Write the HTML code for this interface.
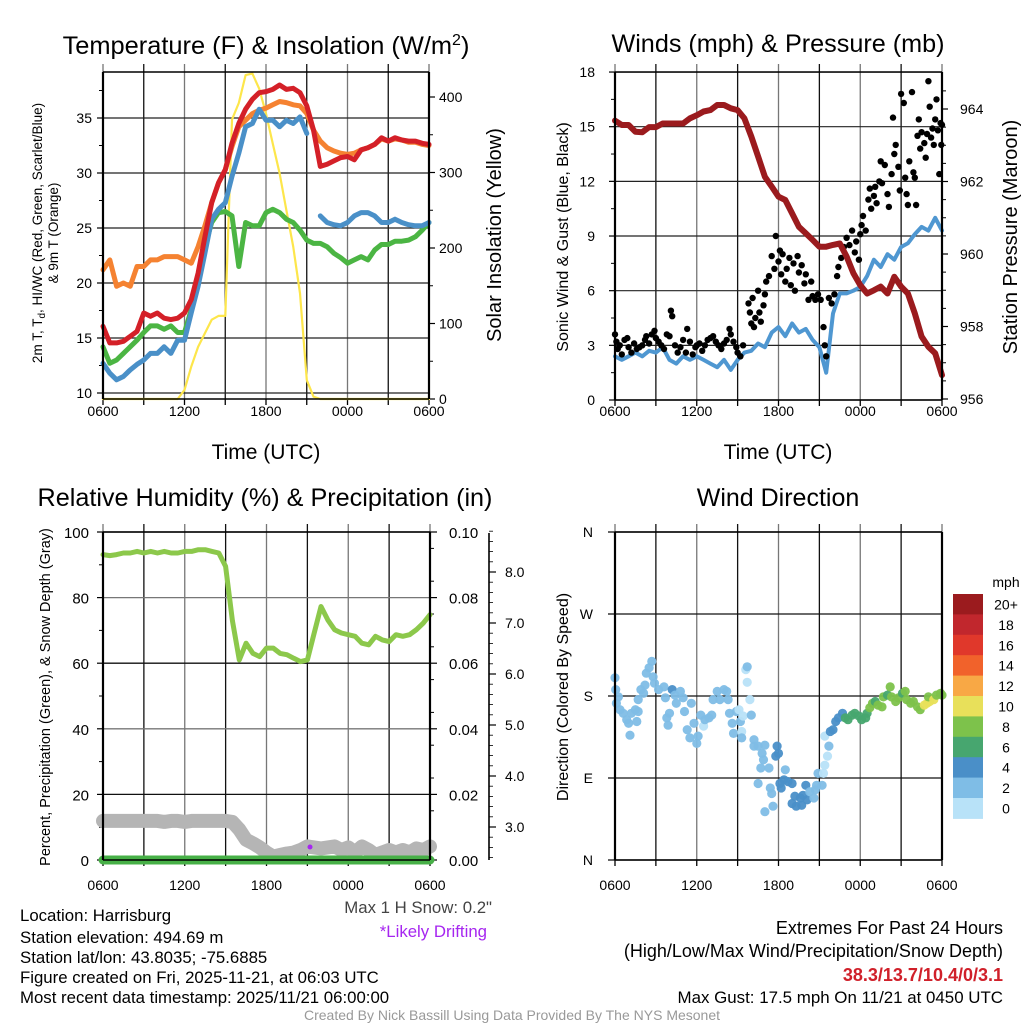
<!DOCTYPE html>
<html><head><meta charset="utf-8"><style>
html,body{margin:0;padding:0;background:#fff;}
svg{display:block;font-family:"Liberation Sans",Arial,sans-serif;}
</style></head><body>
<svg id="fig" width="1024" height="1024" viewBox="0 0 1024 1024" xmlns="http://www.w3.org/2000/svg">
<rect x="0" y="0" width="1024" height="1024" fill="#fff"/>
<text x="266" y="54" font-size="25.4" text-anchor="middle">Temperature (F) &amp; Insolation (W/m<tspan dy="-9" font-size="16">2</tspan><tspan dy="9">)</tspan></text>
<text x="778" y="52" font-size="25.2" text-anchor="middle">Winds (mph) &amp; Pressure (mb)</text>
<text x="265" y="506" font-size="25.2" text-anchor="middle">Relative Humidity (%) &amp; Precipitation (in)</text>
<text x="778" y="506" font-size="25" text-anchor="middle">Wind Direction</text>
<text x="266" y="459" font-size="21" text-anchor="middle">Time (UTC)</text>
<text x="778" y="459" font-size="21" text-anchor="middle">Time (UTC)</text>
<text transform="translate(42,233) rotate(-90)" font-size="13.5" text-anchor="middle">2m T, T<tspan dy="3" font-size="10">d</tspan><tspan dy="-3">, HI/WC (Red, Green, Scarlet/Blue)</tspan></text>
<text transform="translate(58,233) rotate(-90)" font-size="13.5" text-anchor="middle">&amp; 9m T (Orange)</text>
<text transform="translate(501,235) rotate(-90)" font-size="20" text-anchor="middle">Solar Insolation (Yellow)</text>
<text transform="translate(568,237) rotate(-90)" font-size="16" text-anchor="middle">Sonic Wind &amp; Gust (Blue, Black)</text>
<text transform="translate(1017,237) rotate(-90)" font-size="20" text-anchor="middle">Station Pressure (Maroon)</text>
<text transform="translate(50,697) rotate(-90)" font-size="14.5" text-anchor="middle">Percent, Precipitation (Green), &amp; Snow Depth (Gray)</text>
<text transform="translate(568,697) rotate(-90)" font-size="16" text-anchor="middle">Direction (Colored By Speed)</text>
<g id="layer"></g>
<text x="492" y="913" font-size="16.8" fill="#444" text-anchor="end">Max 1 H Snow: 0.2"</text>
<text x="487" y="937" font-size="16.8" fill="#a626f0" text-anchor="end">*Likely Drifting</text>
<g font-size="16.8">
<text x="20" y="921">Location: Harrisburg</text>
<text x="20" y="943">Station elevation: 494.69 m</text>
<text x="20" y="963">Station lat/lon: 43.8035; -75.6885</text>
<text x="20" y="983">Figure created on Fri, 2025-11-21, at 06:03 UTC</text>
<text x="20" y="1003">Most recent data timestamp: 2025/11/21 06:00:00</text>
</g>
<g font-size="18" text-anchor="end">
<text x="1003" y="934">Extremes For Past 24 Hours</text>
<text x="1003" y="957">(High/Low/Max Wind/Precipitation/Snow Depth)</text>
<text x="1003" y="981" fill="#d0202a" font-weight="bold">38.3/13.7/10.4/0/3.1</text>
<text x="1003" y="1003" font-size="16.9">Max Gust: 17.5 mph On 11/21 at 0450 UTC</text>
</g>
<text x="512" y="1020" font-size="14" fill="#999" text-anchor="middle">Created By Nick Bassill Using Data Provided By The NYS Mesonet</text>
</svg>
<script>
// ---- data (half-hourly, hours since 0600 UTC) ----
const tempT = [16.06,14.55,14.55,14.7,15.15,15.6,17.27,16.97,17.27,16.8,16.67,16.8,17.27,18.5,20.9,24.2,27.3,29.1,30.3,32.7,34.5,35.8,36.7,37.3,37.4,37.6,38.0,37.6,37.7,37.3,36.1,33.9,30.6,30.8,31.1,31.4,31.5,31.2,32.1,32.3,32.6,33.2,32.9,33.2,33.0,32.9,32.9,32.7,32.6];
const temp9m = [21.2,22.1,19.7,20.0,19.7,21.5,21.5,22.1,22.1,22.4,22.4,22.4,22.1,21.8,23.3,25.2,27.3,29.1,30.3,32.4,34.2,34.8,35.4,35.7,35.9,36.2,36.5,36.4,36.2,36.1,35.4,33.9,32.9,32.3,32.0,31.8,31.7,31.8,32.1,32.3,32.6,33.1,32.9,33.1,33.0,32.8,32.8,32.6,32.5];
const windChill = [12.7,11.8,11.2,11.5,12.1,12.6,13.0,13.6,13.6,14.2,13.6,14.8,14.8,17.3,19.7,22.7,25.8,26.7,27.3,29.7,31.8,34.2,34.5,35.8,34.8,34.8,34.2,34.8,34.5,35.1,33.6,null,26.1,25.5,25.3,25.2,25.5,26.1,26.4,26.4,26.1,25.5,25.5,25.8,25.5,25.3,25.2,25.2,25.5];
const dewPoint = [14.2,12.7,13.0,13.6,14.2,14.8,15.5,16.1,16.1,15.8,16.1,15.5,15.5,17.6,20.3,23.3,25.5,26.4,26.5,26.1,21.5,25.5,25.2,25.2,26.4,26.7,26.4,25.8,25.5,24.8,23.9,23.6,23.6,23.3,22.7,22.3,21.8,22.1,22.4,22.1,23.0,23.5,23.5,23.8,23.8,23.9,24.2,24.8,25.5];
const solar = [0,0,0,0,0,0,0,0,0,0,0,0,12,43,69,87,105,110,110,370,392,429,431,411,378,338,299,250,202,140,25,3,0,0,0,0,0,0,0,0,0,0,0,0,0,0,0,0,0];
const sonicWind = [2.4,2.2,2.4,2.6,2.4,2.7,2.6,2.9,2.2,2.0,2.4,2.2,2.4,2.2,2.0,1.8,2.2,1.65,2.2,2.6,2.7,3.1,2.9,3.7,4.0,3.5,4.2,3.7,3.9,3.3,2.9,1.5,4.75,5.85,5.85,6.0,6.2,6.8,7.7,7.3,8.0,7.7,8.4,8.6,9.1,9.5,9.3,10.0,9.3];
const pressure = [963.68,963.56,963.56,963.37,963.36,963.5,963.5,963.6,963.6,963.6,963.6,963.74,963.83,963.93,963.97,964.11,964.11,964.02,963.97,963.74,963.24,962.69,962.13,961.86,961.58,961.49,961.12,960.75,960.57,960.39,960.2,960.2,960.25,960.29,959.93,959.47,959.14,958.91,959.0,959.1,958.91,959.37,959.1,958.91,958.36,957.72,957.44,957.26,956.66];
const gustHours = [0,0.1,0.2,0.35,0.5,0.7,0.9,1.0,1.2,1.4,1.6,1.8,2.0,2.2,2.3,2.5,2.7,2.9,3.0,3.2,3.4,3.6,3.8,4.0,4.1,4.2,4.4,4.6,4.8,5.0,5.2,5.3,5.5,5.7,5.9,6.0,6.2,6.4,6.6,6.8,7.0,7.2,7.4,7.6,7.8,8.0,8.2,8.4,8.5,8.7,8.9,9.0,9.2,9.4,
9.8,9.9,10.0,10.1,10.2,10.3,10.5,10.6,10.7,10.9,11.0,11.1,11.3,11.5,11.7,11.8,12.0,12.1,12.2,12.3,12.5,12.6,12.8,12.9,13.1,13.2,13.4,13.5,13.7,13.9,14.0,14.2,14.4,14.5,14.7,14.9,15.1,15.3,15.4,15.5,15.7,15.9,16.1,16.3,16.4,16.6,16.8,17.0,17.2,17.4,17.6,17.7,17.9,18.0,18.1,18.2,18.4,18.6,18.7,18.8,19.0,19.1,19.2,19.4,19.5,19.6,19.8,20.0,20.1,20.3,20.4,20.5,20.6,20.8,20.9,21.0,21.2,21.3,21.4,21.5,21.6,21.8,21.9,22.0,22.1,22.2,22.3,22.4,22.5,22.7,22.8,22.9,23.0,23.1,23.2,23.3,23.4,23.5,23.6,23.7,23.8,23.9,24.0,23.95];
const gustValues = [3.6,3.2,2.8,3.0,2.5,3.3,3.4,2.9,2.6,3.1,2.8,2.9,3.0,3.3,3.5,3.1,3.6,3.8,3.4,3.2,3.0,2.8,3.6,3.5,4.9,4.6,3.0,2.6,2.9,3.3,2.6,3.9,3.2,2.5,2.9,3.0,3.1,2.7,3.0,3.3,3.4,3.5,3.2,3.0,2.8,3.1,3.3,3.9,3.6,3.2,2.9,2.6,2.4,3.0,
5.3,4.8,4.2,5.6,4.0,4.5,6.0,4.8,4.3,5.2,5.8,6.5,6.8,7.9,7.2,9.0,7.6,8.2,6.9,8.0,6.5,7.2,7.8,6.3,7.5,6.0,7.9,7.0,7.4,6.4,6.9,5.5,6.5,5.7,5.5,5.8,5.5,4.0,3.0,2.4,5.6,5.3,5.8,6.8,7.3,7.8,8.4,8.9,8.5,9.3,8.1,8.7,7.7,9.1,9.6,10.1,9.3,11.0,11.6,10.5,11.2,11.7,10.8,12.0,13.1,11.9,12.9,11.3,10.6,12.4,15.5,13.5,14.0,12.8,11.5,16.8,16.3,12.2,11.3,10.7,13.1,16.9,12.5,12.2,10.7,14.5,15.4,13.8,14.7,14.1,13.3,14.6,17.5,16.1,14.4,14.9,14.0,15.4,16.5,14.8,12.4,15.2,15.1,14.0];
const relHum = [93.1,92.8,93.1,93.6,93.6,94.1,93.6,94.1,93.6,94.1,93.6,93.6,94.1,94.1,94.6,94.6,94.1,93.6,89.5,73,61,66.1,63,62,64.6,64.6,63,62.6,61.5,60.5,61,69.2,77.3,73.2,70.2,69.2,68.7,68.2,66.1,65.6,68.2,67.1,66.6,68.7,68.2,68.7,70.2,72.2,74.8];
const snowDepth = [3.12,3.12,3.12,3.12,3.12,3.12,3.12,3.12,3.12,3.1,3.12,3.12,3.1,3.12,3.12,3.12,3.12,3.12,3.12,3.1,2.95,2.75,2.68,2.6,2.5,2.42,2.45,2.48,2.5,2.55,2.62,2.6,2.58,2.6,2.62,2.55,2.6,2.5,2.62,2.55,2.45,2.5,2.55,2.5,2.55,2.5,2.58,2.55,2.62];
const precip = [0,0,0,0,0,0,0,0,0,0,0,0,0,0,0,0,0,0,0,0,0,0,0,0,0,0,0,0,0,0,0,0,0,0,0,0,0,0,0,0,0,0,0,0,0,0,0,0,0];
const dirHours = [0.0,0.05,0.1,0.25,0.37,0.6,0.86,1.0,1.1,1.2,1.5,1.7,1.6,1.7,1.9,2.1,2.2,2.3,2.5,2.7,2.8,2.9,3.2,3.6,3.7,3.8,3.9,4.0,4.2,4.4,4.5,4.8,5.0,5.1,5.3,5.5,5.6,5.8,6.0,6.1,6.3,6.5,6.6,6.9,7.1,7.2,7.5,7.7,8.0,8.2,8.3,8.4,8.6,8.7,8.9,9.1,9.2,9.3,9.3,9.4,9.6,9.7,9.7,9.9,10.0,10.2,10.2,10.5,10.8,10.9,11.0,10.7,10.5,11.3,11.4,11.5,11.0,11.6,11.9,11.8,12.0,12.1,12.2,12.4,12.5,12.7,13.0,13.0,13.2,13.3,13.6,13.7,13.8,14.0,14.1,14.3,14.6,14.7,14.8,14.9,15.2,15.3,15.4,15.6,15.7,15.4,15.8,16.0,16.2,16.4,16.7,16.9,17.1,17.4,17.6,17.9,18.1,18.4,18.5,18.7,18.9,19.1,19.3,19.6,19.7,20.0,20.2,20.3,20.6,20.8,21.1,21.3,21.4,21.7,21.9,22.2,22.4,22.7,22.9,23.1,23.0,23.4,23.6,23.9,24.0];
const dirDegrees = [200,187,172,179,165,161,154,150,137,161,165,163,152,176,187,183,192,205,211,218,201,194,187,190,178,156,148,161,187,181,172,185,178,163,143,134,172,150,128,136,159,147,154,156,159,176,185,176,187,185,176,161,150,139,163,165,152,141,134,158,209,212,195,176,159,132,125,125,117,110,126,101,84,101,79,73,53,59,125,114,117,84,79,88,99,86,84,62,70,59,68,60,71,82,66,75,68,77,82,95,82,95,104,114,125,136,141,143,152,156,161,156,154,159,161,158,154,156,161,167,172,174,170,168,179,181,190,179,174,178,183,185,176,172,174,168,165,170,172,174,179,176,181,183,181];
const dirSpeeds = [2.5,2.5,2.5,2.5,2.5,2.5,2.5,2.5,2.5,2.5,2.5,2.5,2.5,2.5,2.5,2.5,2.5,2.5,2.5,2.5,2.5,2.5,2.5,2.5,2.5,2.5,2.5,2.5,4.5,2.5,2.5,2.5,2.5,2.5,2.5,2.5,2.5,2.5,2.5,2.5,2.5,1,2.5,2.5,2.5,2.5,2.5,2.5,2.5,2.5,2.5,2.5,2.5,2.5,2.5,1,2.5,1,2.5,1,1,2.5,1,1,2.5,2.5,2.5,2.5,2.5,2.5,2.5,2.5,2.5,2.5,2.5,2.5,2.5,2.5,4.5,4.5,4.5,4.5,4.5,4.5,2.5,4.5,4.5,4.5,4.5,4.5,4.5,4.5,4.5,4.5,4.5,2.5,2.5,2.5,2.5,2.5,2.5,1,1,1,2.5,1,4.5,4.5,4.5,4.5,4.5,6.5,6.5,6.5,6.5,6.5,6.5,6.5,6.5,8.5,8.5,6.5,8.5,8.5,8.5,6.5,8.5,8.5,8.5,8.5,6.5,8.5,8.5,8.5,8.5,8.5,8.5,10.5,10.5,10.5,8.5,10.5,8.5,8.5,8.5];
const xTickLabels = ['0600','1200','1800','0000','0600'];
const tempTicks = [10,15,20,25,30,35];
const solarTicks = [0,100,200,300,400];
const windTicks = [0,3,6,9,12,15,18];
const presTicks = [956,958,960,962,964];
const rhTicks = [0,20,40,60,80,100];
const precipTicks = ['0.00','0.02','0.04','0.06','0.08','0.10'];
const snowTicks = ['3.0','4.0','5.0','6.0','7.0','8.0'];
const dirTicks = ['N','E','S','W','N'];
const speedLabels = ['0','2','4','6','8','10','12','14','16','18','20+'];
const speedColors = ['#b8e2f8','#7fbde6','#4a8fc8','#47a66f','#7dc24b','#e8e05a','#f8a845','#f1622b','#e0382b','#c1272d','#9b1b1e'];

// ---- drawing ----
const NS='http://www.w3.org/2000/svg';
const layer=document.getElementById('layer');
function mk(tag,parent){const e=document.createElementNS(NS,tag);parent.appendChild(e);return e;}
function set(e,o){for(const k in o)e.setAttribute(k,o[k]);return e;}
function line(p,x1,y1,x2,y2,st,w){return set(mk('line',p),{x1:x1,y1:y1,x2:x2,y2:y2,stroke:st,'stroke-width':w});}
function txt(p,x,y,s,anchor,size,fill){const t=set(mk('text',p),{x:x,y:y,'text-anchor':anchor,'font-size':size,fill:fill||'#000'});t.textContent=s;return t;}

const P1={x0:103,x1:429,top:72,bot:399};
const P2={x0:615,x1:942,top:72,bot:400};
const P3={x0:103,x1:430,top:532,bot:860};
const P4={x0:615,x1:942,top:532,bot:860};
function xs(P,h){return P.x0+(P.x1-P.x0)*h/24;}
const yTemp=v=>393-(v-10)*11;
const ySolar=w=>399-w*0.755;
const yWind=v=>400-v*18.22;
const yPres=p=>399-(p-956)*36.25;
const yRH=v=>860-v*3.28;
const yPrecip=v=>860-v*3280;
const ySnow=s=>827-(s-3)*51;
const yDir=d=>860-d*328/360;

function frame(P,name,lblY){
  const g=mk('g',layer);
  
  
  for(let i=0;i<=8;i++){
    const x=xs(P,i*3);
    line(g,x,P.top-8,x,P.bot,(i%2===0)?'#777':'#111',1.3);
    line(g,x,P.bot,x,P.bot+6,'#000',1.3);
  }
  for(let i=0;i<xTickLabels.length;i++){
    const t=txt(g,xs(P,i*6),lblY,xTickLabels[i],'middle',14);
    
    
  }
  return g;
}
function border(P,g){
  line(g,P.x0,P.top,P.x1,P.top,'#000',1.6);
  line(g,P.x0,P.bot,P.x1,P.bot,'#000',1.6);
  line(g,P.x0,P.top,P.x0,P.bot,'#000',2.2);
  line(g,P.x1,P.top,P.x1,P.bot,'#000',2.2);
}
function path(g,arr,xf,yf,color,w,name){
  let d='',pen=false;
  arr.forEach((v,i)=>{ if(v===null){pen=false;return;} d+=(pen?'L':'M')+xf(i*0.5).toFixed(1)+','+yf(v).toFixed(1); pen=true; });
  const p=set(mk('path',g),{d:d,fill:'none',stroke:color,'stroke-width':w,'stroke-linejoin':'round','stroke-linecap':'round'});
  
  
  return p;
}

// Panel 1
(function(){
  const P=P1,g=frame(P,'temp-panel',416);
  tempTicks.forEach(v=>{line(g,P.x0,yTemp(v),P.x1,yTemp(v),'#222',1.2);line(g,P.x0-6,yTemp(v),P.x0,yTemp(v),'#000',1.2);
    const t=txt(g,P.x0-11,yTemp(v)+5,String(v),'end',14);
    
    });
  [12.5,17.5,22.5,27.5,32.5,37.5].forEach(v=>line(g,P.x0-4,yTemp(v),P.x0,yTemp(v),'#000',1));
  solarTicks.forEach(w=>{line(g,P.x1,ySolar(w),P.x1+6,ySolar(w),'#000',1.2);
    const t=txt(g,P.x1+10,ySolar(w)+5,String(w),'start',14);
    
    });
  [50,150,250,350].forEach(w=>line(g,P.x1,ySolar(w),P.x1+4,ySolar(w),'#000',1));
  const xf=h=>xs(P,h);
  path(g,solar,xf,ySolar,'#fde64b',2.2,'solar-line');
  path(g,dewPoint,xf,yTemp,'#4bb543',5,'dewpoint-line');
  path(g,temp9m,xf,yTemp,'#f58231',5,'temp-9m-line');
  path(g,windChill,xf,yTemp,'#4a90c8',5,'windchill-line');
  path(g,tempT,xf,yTemp,'#d42028',5,'temp-2m-line');
  border(P,g);
})();

// Panel 2
(function(){
  const P=P2,g=frame(P,'wind-panel',416);
  windTicks.forEach(v=>{line(g,P.x0,yWind(v),P.x1,yWind(v),'#222',1.2);line(g,P.x0-6,yWind(v),P.x0,yWind(v),'#000',1.2);
    const t=txt(g,P.x0-20,yWind(v)+5,String(v),'end',14);
    
    });
  [1.5,4.5,7.5,10.5,13.5,16.5].forEach(v=>line(g,P.x0-4,yWind(v),P.x0,yWind(v),'#000',1));
  presTicks.forEach(p=>{line(g,P.x1,yPres(p),P.x1+6,yPres(p),'#000',1.2);
    const t=txt(g,P.x1+18,yPres(p)+5,String(p),'start',14);
    
    });
  for(let p=956.5;p<964.6;p+=0.5) line(g,P.x1,yPres(p),P.x1+4,yPres(p),'#000',1);
  const xf=h=>xs(P,h);
  path(g,sonicWind,xf,yWind,'#4f97d1',4,'sonic-wind-line');
  gustHours.forEach((h,i)=>{
    const c=set(mk('circle',g),{cx:xf(h).toFixed(1),cy:yWind(gustValues[i]).toFixed(1),r:3.2,fill:'#000'});
    
    
  });
  path(g,pressure,xf,yPres,'#9b1b1e',6,'pressure-line');
  border(P,g);
})();

// Panel 3
(function(){
  const P=P3,g=frame(P,'rh-panel',890);
  rhTicks.forEach(v=>{line(g,P.x0,yRH(v),P.x1,yRH(v),(v===20||v===60||v===100)?'#111':'#777',1.3);line(g,P.x0-6,yRH(v),P.x0,yRH(v),'#000',1.2);
    const t=txt(g,P.x0-14,yRH(v)+6,String(v),'end',15);
    
    });
  [10,30,50,70,90].forEach(v=>line(g,P.x0-4,yRH(v),P.x0,yRH(v),'#000',1));
  precipTicks.forEach((s,i)=>{const y=yPrecip(i*0.02);line(g,P.x1,y,P.x1+7,y,'#000',1.2);
    const t=txt(g,P.x1+19,y+6,s,'start',15);
    
    });
  for(let i=1;i<20;i+=2) line(g,P.x1,yPrecip(i*0.005),P.x1+4,yPrecip(i*0.005),'#000',1);
  line(g,489,533,489,860,'#000',1.6);
  snowTicks.forEach((s,i)=>{const y=ySnow(3+i);line(g,489,y,496,y,'#000',1.2);
    const t=txt(g,505,y+5,s,'start',14);
    
    });
  for(let s=2.4;s<=8.8;s+=0.2){ if(Math.abs(s-Math.round(s))>0.05) line(g,489,ySnow(s),493,ySnow(s),'#000',0.8); }
  const xf=h=>xs(P,h);
  path(g,snowDepth,xf,ySnow,'#b5b5b5',14,'snow-depth-line');
  path(g,precip,xf,yPrecip,'#47b047',9,'precip-line');
  path(g,relHum,xf,yRH,'#8cc84b',5,'rh-line');
  const dot=set(mk('circle',g),{cx:310,cy:847,r:2.5,fill:'#a626f0'});
  
  
  border(P,g);
})();

// Panel 4
(function(){
  const P=P4,g=frame(P,'wdir-panel',890);
  dirTicks.forEach((s,i)=>{const y=yDir(i*90);line(g,P.x0,y,P.x1,y,'#111',1.3);line(g,P.x0-7,y,P.x0,y,'#000',1.2);
    const t=txt(g,P.x0-22,y+5,s,'end',14);
    
    });
  const xf=h=>xs(P,h);
  dirHours.forEach((h,i)=>{
    const idx=Math.min(10,Math.floor(dirSpeeds[i]/2));
    const c=set(mk('circle',g),{cx:xf(h).toFixed(1),cy:yDir(dirDegrees[i]).toFixed(1),r:4.6,fill:speedColors[idx],'fill-opacity':0.95});
    
    
  });
  border(P,g);
  const cb=mk('g',layer);
  
  
  txt(cb,1006,587,'mph','middle',14);
  for(let i=0;i<11;i++){
    const k=10-i, y=594+i*20.4;
    const r=set(mk('rect',cb),{x:953,y:y.toFixed(1),width:30,height:20.9,fill:speedColors[k]});
    
    
    const t=txt(cb,1006,y+15.5,speedLabels[k],'middle',14);
    
    
  }
})();
</script>
</body></html>
